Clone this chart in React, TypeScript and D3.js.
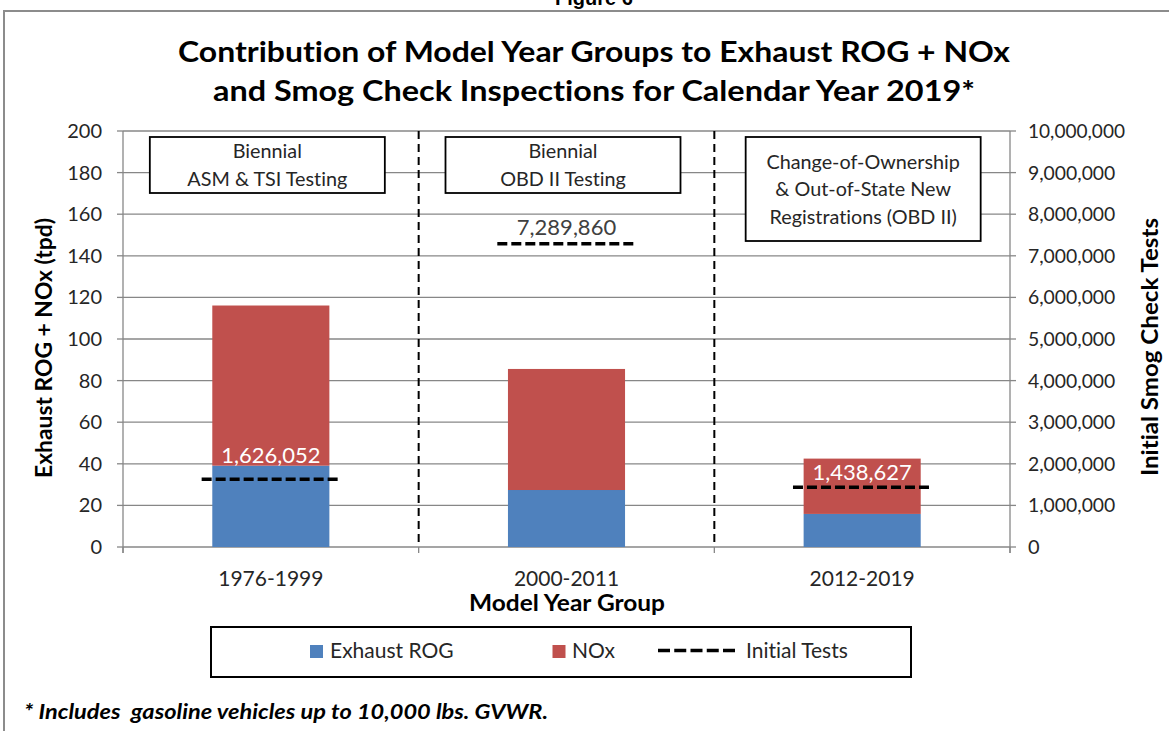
import React from "react";
import * as d3 from "d3";

const categories = ["1976-1999", "2000-2011", "2012-2019"];
const exhaustROG = [39.1, 27.4, 15.9];
const noxValues = [77.0, 58.2, 26.6];
const initialTests = [1626052, 7289860, 1438627];
const leftDomain = [0, 200];
const rightDomain = [0, 10000000];
const programNotes = [
  ["Biennial", "ASM & TSI Testing"],
  ["Biennial", "OBD II Testing"],
  ["Change-of-Ownership", "& Out-of-State New", "Registrations (OBD II)"],
];
const seriesNames = ["Exhaust ROG", "NOx", "Initial Tests"];

const W = 1169;
const H = 731;
const M = { left: 123, right: 1010, top: 131, bottom: 547 };
const FONT = "Lato, 'Open Sans', sans-serif";
const BLUE = "#4F81BD";
const RED = "#C0504D";
const GRID = "#878787";
const TXT = "#262626";

// label offsets above the test line (styling)
const labelLift = [16, 8.5, 7.5];
const labelColor = ["#FFFFFF", "#404040", "#FFFFFF"];

export default function App() {
  const x = d3
    .scaleBand<string>()
    .domain(categories)
    .range([M.left, M.right])
    .paddingInner(0.604)
    .paddingOuter(0.302);
  const step = x.step();
  const yL = d3.scaleLinear().domain(leftDomain).range([M.bottom, M.top]);
  const yR = d3.scaleLinear().domain(rightDomain).range([M.bottom, M.top]);
  const leftTicks = yL.ticks(10);
  const rightTicks = yR.ticks(10);
  const fmt = d3.format(",");
  const stack = d3
    .stack<number>()
    .keys(["rog", "nox"])
    .value((i, k) => (k === "rog" ? exhaustROG[i] : noxValues[i]))(
    categories.map((_, i) => i)
  );
  const boundaries = d3.range(categories.length + 1).map((i) => M.left + i * step);
  const center = (c: string) => (x(c) as number) + x.bandwidth() / 2;
  const lineHalf = step * 0.234;
  const boxW = 235;
  const boxTop = 137;
  const boxLineH = 27.5;
  const boxH = [56, 56, 104];
  const boxShift = [-3.5, -3.5, 1];

  return (
    <svg
      width={W}
      height={H}
      style={{ position: "absolute", left: 0, top: 0, background: "#fff", fontVariantLigatures: "none" }}
      fontFamily={FONT}
    >
      <rect x={0} y={0} width={W} height={H} fill="#fff" />
      <text
        x={594}
        y={5}
        textAnchor="middle"
        fontFamily="'Liberation Sans', Arial, sans-serif"
        fontWeight="bold"
        fontSize={20}
        fill="#000"
      >
        Figure 6
      </text>
      <path d={`M4,${H + 2}V11H${W + 2}`} fill="none" stroke="#8c8c8c" strokeWidth={2} />

      {/* Title */}
      <text x={594} y={62} textAnchor="middle" fontWeight="bold" fontSize={28} fill="#000"
        textLength={832} lengthAdjust="spacingAndGlyphs">
        Contribution of Model Year Groups to Exhaust ROG + NOx
      </text>
      <text x={594} y={101} textAnchor="middle" fontWeight="bold" fontSize={28} fill="#000"
        textLength={762} lengthAdjust="spacingAndGlyphs">
        and Smog Check Inspections for Calendar Year 2019*
      </text>

      {/* gridlines */}
      {leftTicks.map((t) => (
        <line key={"g" + t} x1={M.left} x2={M.right} y1={yL(t)} y2={yL(t)} stroke={GRID} strokeWidth={1.3} />
      ))}
      {/* left axis */}
      <line x1={M.left} x2={M.left} y1={M.top} y2={M.bottom + 6} stroke={GRID} strokeWidth={1.3} />
      {leftTicks.map((t) => (
        <g key={"lt" + t}>
          <line x1={M.left - 6} x2={M.left} y1={yL(t)} y2={yL(t)} stroke={GRID} strokeWidth={1.3} />
          <text x={102} y={yL(t) + 7} textAnchor="end" fontSize={20} fill={TXT}>
            {t}
          </text>
        </g>
      ))}
      {/* right axis */}
      <line x1={M.right} x2={M.right} y1={M.top} y2={M.bottom + 6} stroke={GRID} strokeWidth={1.3} />
      {rightTicks.map((t) => (
        <g key={"rt" + t}>
          <line x1={M.right} x2={M.right + 6} y1={yR(t)} y2={yR(t)} stroke={GRID} strokeWidth={1.3} />
          <text x={1028} y={yR(t) + 7} textAnchor="start" fontSize={20} fill={TXT}
            textLength={fmt(t).length > 1 ? fmt(t).length * 9.7 : undefined} lengthAdjust="spacingAndGlyphs">
            {fmt(t)}
          </text>
        </g>
      ))}
      {/* category boundary ticks */}
      {boundaries.map((b, i) => (
        <line key={"bt" + i} x1={b} x2={b} y1={M.bottom} y2={M.bottom + 6} stroke={GRID} strokeWidth={1.3} />
      ))}

      {/* bars */}
      {stack.map((s, si) => (
        <g key={s.key} fill={si === 0 ? BLUE : RED}>
          {s.map((d, i) => (
            <rect
              key={i}
              x={x(categories[i])}
              width={x.bandwidth()}
              y={yL(d[1])}
              height={yL(d[0]) - yL(d[1])}
            />
          ))}
        </g>
      ))}

      {/* dashed dividers */}
      {boundaries.slice(1, -1).map((b, i) => (
        <line key={"dv" + i} x1={b} x2={b} y1={M.top} y2={M.bottom} stroke="#000" strokeWidth={2} strokeDasharray="8,5" />
      ))}

      {/* program boxes */}
      {programNotes.map((lines, i) => {
        const cx = center(categories[i]) + boxShift[i];
        const cy = boxTop + boxH[i] / 2;
        return (
          <g key={"box" + i}>
            <rect x={cx - boxW / 2} y={boxTop} width={boxW} height={boxH[i]} fill="#fff" stroke="#000" strokeWidth={1.8} />
            {lines.map((l, j) => (
              <text key={j} x={cx} y={cy + 7 + (j - (lines.length - 1) / 2) * boxLineH}
                textAnchor="middle" fontSize={19.8} fill={TXT}>
                {l}
              </text>
            ))}
          </g>
        );
      })}

      {/* initial tests lines + labels */}
      {initialTests.map((v, i) => {
        const cx = center(categories[i]);
        return (
          <g key={"it" + i}>
            <line x1={cx - lineHalf} x2={cx + lineHalf} y1={yR(v)} y2={yR(v)} stroke="#000" strokeWidth={3.5} strokeDasharray="10,4" />
            <text x={cx} y={yR(v) - labelLift[i]} textAnchor="middle" fontSize={22} fill={labelColor[i]}>
              {fmt(v)}
            </text>
          </g>
        );
      })}

      {/* x labels */}
      {categories.map((c) => (
        <text key={c} x={center(c)} y={586} textAnchor="middle" fontSize={21} fill={TXT}>
          {c}
        </text>
      ))}
      <text x={567} y={611} textAnchor="middle" fontWeight="bold" fontSize={22} fill="#000"
        textLength={196} lengthAdjust="spacingAndGlyphs">
        Model Year Group
      </text>

      {/* axis titles */}
      <text transform="translate(52,348) rotate(-90)" textAnchor="middle" fontWeight="bold" fontSize={22} fill="#000"
        textLength={260} lengthAdjust="spacingAndGlyphs">
        Exhaust ROG + NOx (tpd)
      </text>
      <text transform="translate(1158,347) rotate(-90)" textAnchor="middle" fontWeight="bold" fontSize={22} fill="#000"
        textLength={258} lengthAdjust="spacingAndGlyphs">
        Initial Smog Check Tests
      </text>

      {/* legend */}
      <rect x={211} y={627} width={700} height={50} fill="#fff" stroke="#000" strokeWidth={2} />
      <rect x={310} y={645} width={13} height={13} fill={BLUE} />
      <text x={330} y={658} fontSize={21} fill={TXT}>{seriesNames[0]}</text>
      <rect x={552.5} y={645} width={13} height={13} fill={RED} />
      <text x={572} y={658} fontSize={21} fill={TXT}>{seriesNames[1]}</text>
      <line x1={658} x2={735} y1={650.5} y2={650.5} stroke="#000" strokeWidth={3.5} strokeDasharray="12,4.25" />
      <text x={746} y={658} fontSize={21} fill={TXT}>{seriesNames[2]}</text>

      {/* footnote */}
      <text x={24} y={719} fontWeight="bold" fontStyle="italic" fontSize={20} fill="#000"
        textLength={524} lengthAdjust="spacingAndGlyphs" xmlSpace="preserve">
        * Includes  gasoline vehicles up to 10,000 lbs. GVWR.
      </text>
    </svg>
  );
}
